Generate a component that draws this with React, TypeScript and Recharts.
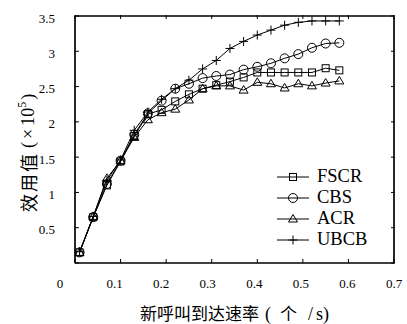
import React from 'react';
import { LineChart, Line, XAxis, YAxis, Label, ReferenceArea, CartesianGrid } from 'recharts';

const rates = [0.01, 0.04, 0.07, 0.10, 0.13, 0.16, 0.19, 0.22, 0.25, 0.28, 0.31, 0.34, 0.37, 0.40, 0.43, 0.46, 0.49, 0.52, 0.55, 0.58];
const fscr = [0.15, 0.65, 1.10, 1.44, 1.80, 2.11, 2.17, 2.29, 2.39, 2.47, 2.52, 2.57, 2.63, 2.70, 2.70, 2.70, 2.70, 2.70, 2.76, 2.73];
const cbs = [0.15, 0.65, 1.12, 1.45, 1.82, 2.12, 2.30, 2.47, 2.54, 2.62, 2.65, 2.67, 2.74, 2.78, 2.83, 2.90, 2.96, 3.05, 3.11, 3.12];
const acr = [0.15, 0.66, 1.20, 1.45, 1.78, 2.03, 2.13, 2.18, 2.31, 2.47, 2.51, 2.51, 2.45, 2.56, 2.54, 2.48, 2.54, 2.51, 2.55, 2.58];
const ubcb = [0.16, 0.66, 1.17, 1.46, 1.88, 2.14, 2.32, 2.47, 2.59, 2.75, 2.87, 3.04, 3.14, 3.23, 3.30, 3.37, 3.41, 3.43, 3.43, 3.43];

const xTicks = [0, 0.1, 0.2, 0.3, 0.4, 0.5, 0.6, 0.7];
const yTicks = [0, 0.5, 1, 1.5, 2, 2.5, 3, 3.5];

const seriesNames = ['FSCR', 'CBS', 'ACR', 'UBCB'];
const seriesKeys = ['fscr', 'cbs', 'acr', 'ubcb'];

const data = rates.map((x, i) => ({ x, fscr: fscr[i], cbs: cbs[i], acr: acr[i], ubcb: ubcb[i] }));

const X_MAX = 0.7;
const Y_MAX = 3.5;
const PLOT_L = 75;
const PLOT_R = 395;
const PLOT_T = 15;
const PLOT_B = 263;
const SERIF = "'Liberation Serif', 'Times New Roman', serif";
const CJK = "'Noto Sans CJK SC', sans-serif";

function Marker({ kind, cx, cy }: { kind: string; cx: number; cy: number }) {
  const s = 'black';
  if (kind === 'fscr') return <rect x={cx - 3.5} y={cy - 3.5} width={7} height={7} fill="none" stroke={s} strokeWidth={1} />;
  if (kind === 'cbs') return <circle cx={cx} cy={cy} r={4.5} fill="none" stroke={s} strokeWidth={1} />;
  if (kind === 'acr') return <path d={`M${cx - 4.5},${cy + 3} L${cx + 4.5},${cy + 3} L${cx},${cy - 4.5} Z`} fill="none" stroke={s} strokeWidth={1} />;
  return <path d={`M${cx - 4.5},${cy} L${cx + 4.5},${cy} M${cx},${cy - 4.5} L${cx},${cy + 4.5}`} stroke={s} strokeWidth={1} fill="none" />;
}

const makeDot = (kind: string) => (props: any) => {
  const { cx, cy, index } = props;
  if (cx == null || cy == null) return <g key={`${kind}-${index}`} />;
  return <g key={`${kind}-${index}`}><Marker kind={kind} cx={cx} cy={cy} /></g>;
};

function XTick(props: any) {
  const { x, payload } = props;
  const v = payload.value as number;
  const lx = v === 0 ? 60 : x - (X_MAX - v) * 10;
  return (
    <g>
      <path d={`M${x},${PLOT_B} L${x},${PLOT_B - 4} M${x},${PLOT_T} L${x},${PLOT_T + 4}`} stroke="black" strokeWidth={1} />
      <text x={lx} y={288} textAnchor="middle" fontFamily={SERIF} fontSize={13} fill="black">{String(v)}</text>
    </g>
  );
}

function YTick(props: any) {
  const { y, payload } = props;
  const v = payload.value as number;
  return (
    <g>
      <path d={`M${PLOT_L},${y} L${PLOT_L + 4},${y} M${PLOT_R - 4},${y} L${PLOT_R},${y}`} stroke="black" strokeWidth={1} />
      {v !== 0 && <text x={55} y={y + 6.5} textAnchor="end" fontFamily={SERIF} fontSize={13} fill="black">{String(v)}</text>}
    </g>
  );
}

function LegendBox() {
  return (
    <div style={{ position: 'absolute', left: 276, top: 166, display: 'flex', flexDirection: 'column' }}>
      {seriesKeys.map((k, i) => (
        <div key={k} style={{ display: 'flex', alignItems: 'center', height: 21 }}>
          <svg width={34} height={16}>
            <path d="M1,8 L33,8" stroke="black" strokeWidth={1} fill="none" />
            <Marker kind={k} cx={17} cy={8} />
          </svg>
          <span style={{ fontFamily: SERIF, fontSize: 18.5, marginLeft: 7, lineHeight: '21px', color: 'black' }}>{seriesNames[i]}</span>
        </div>
      ))}
    </div>
  );
}

export default function App() {
  return (
    <div style={{ position: 'absolute', left: 0, top: 0, width: 407, height: 324 }}>
      <LineChart width={407} height={324} data={data} margin={{ top: PLOT_T, right: 407 - PLOT_R, bottom: 21, left: 15 }}>
        <CartesianGrid stroke="#000" horizontal={false} vertical={false} />
        <ReferenceArea x1={0} x2={X_MAX} y1={0} y2={Y_MAX} stroke="#000" strokeWidth={1.2} fill="none" ifOverflow="visible" />
        <XAxis dataKey="x" type="number" domain={[0, X_MAX]} ticks={xTicks} tick={<XTick />} tickLine={false} axisLine={{ stroke: '#000', strokeWidth: 1.2 }} height={40} interval={0}>
          <Label content={() => (
            <text y={320} fontFamily={CJK} fontSize={17} fill="black">
              <tspan x={140}>新呼叫到达速率</tspan>
              <tspan x={265} fontFamily={SERIF} fontSize={18}>(</tspan>
              <tspan x={280}>个</tspan>
              <tspan x={308} fontFamily={SERIF} fontSize={18}>/</tspan>
              <tspan x={316} fontFamily={SERIF} fontSize={18}>s)</tspan>
            </text>
          )} />
        </XAxis>
        <XAxis xAxisId="top" orientation="top" dataKey="x" type="number" domain={[0, X_MAX]} ticks={xTicks} tick={false} tickLine={false} axisLine={{ stroke: '#000', strokeWidth: 1.2 }} height={1} />
        <YAxis type="number" domain={[0, Y_MAX]} ticks={yTicks} tick={<YTick />} tickLine={false} axisLine={{ stroke: '#000', strokeWidth: 1.2 }} width={60} interval={0}>
          <Label content={() => (
            <g transform="rotate(-90 28 212)">
              <text x={28} y={212} dominantBaseline="central" fontFamily={CJK} fontSize={18} fill="black">
                <tspan letterSpacing={2}>效用值</tspan>
                <tspan dx={4} fontFamily={SERIF}>(</tspan>
                <tspan dx={3} fontFamily={SERIF}>×</tspan>
                <tspan dx={3} fontFamily={SERIF}>10</tspan>
                <tspan dy={-6} fontFamily={SERIF} fontSize={12}>5</tspan>
                <tspan dy={6} dx={2} fontFamily={SERIF}>)</tspan>
              </text>
            </g>
          )} />
        </YAxis>
        <YAxis yAxisId="right" orientation="right" type="number" domain={[0, Y_MAX]} ticks={yTicks} tick={false} tickLine={false} axisLine={{ stroke: '#000', strokeWidth: 1.2 }} width={1} />
        {seriesKeys.map((k, i) => (
          <Line key={k} dataKey={k} name={seriesNames[i]} stroke="black" strokeWidth={1} isAnimationActive={false} dot={makeDot(k)} activeDot={false} />
        ))}
      </LineChart>
      <LegendBox />
    </div>
  );
}
